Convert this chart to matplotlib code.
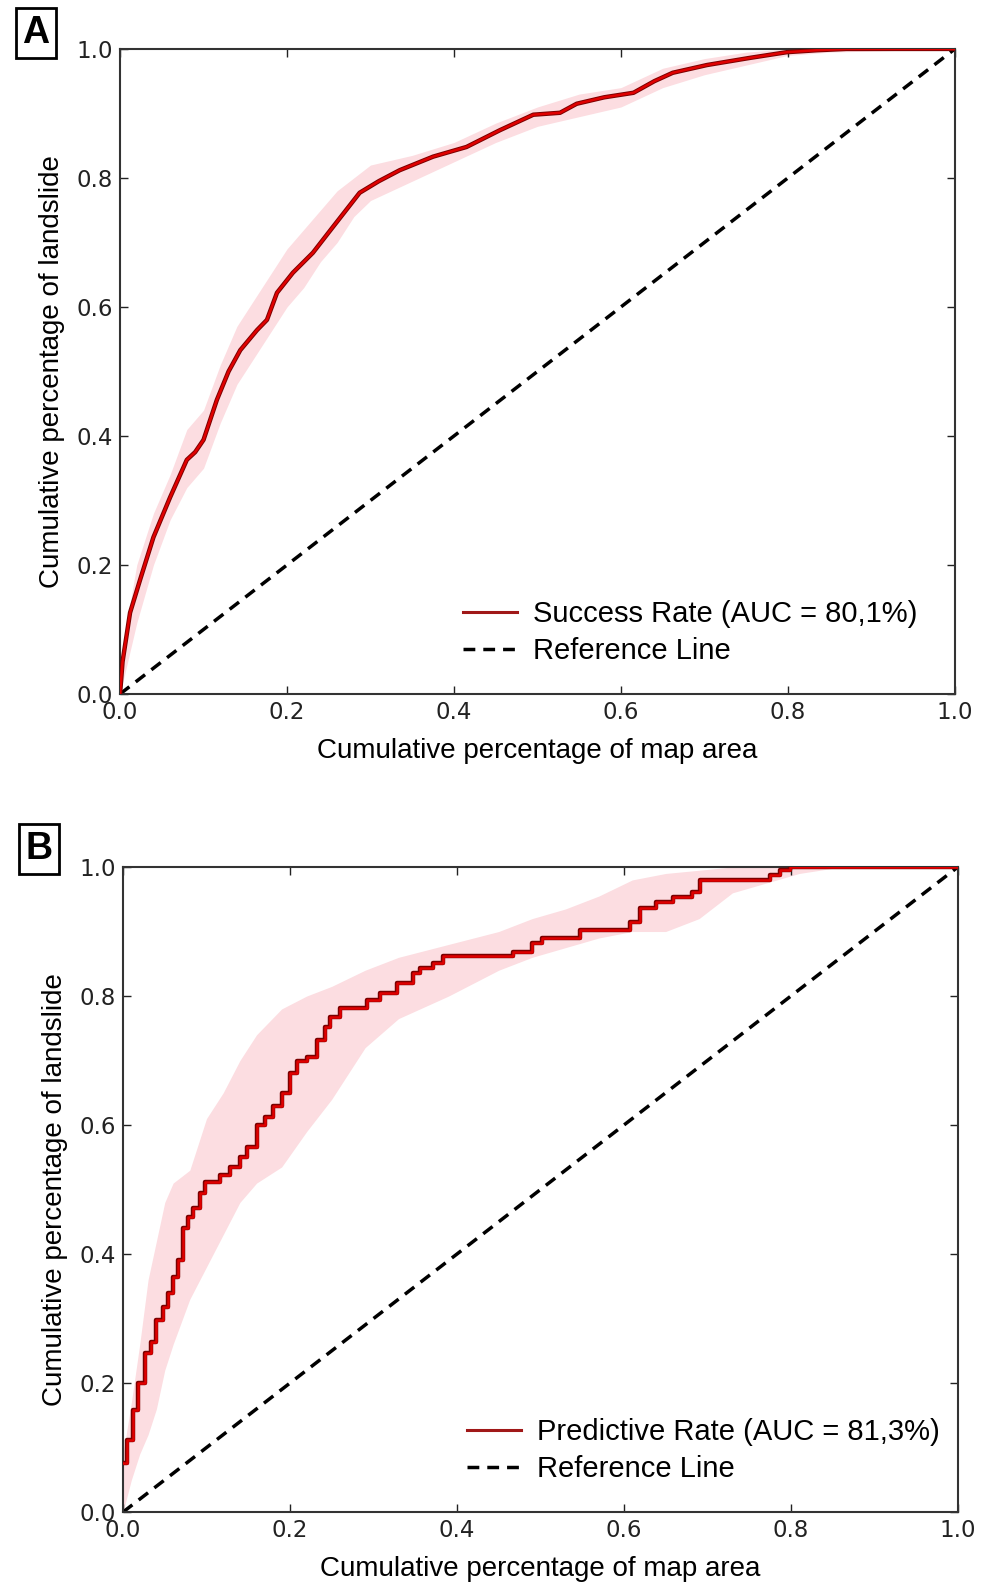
import numpy as np
import matplotlib
matplotlib.use('Agg')
import matplotlib.pyplot as plt

# panel A: success rate curve
a_x = [0, 0.003, 0.012, 0.024, 0.040, 0.060, 0.080, 0.090, 0.100, 0.116, 0.130, 0.144,
       0.164, 0.176, 0.188, 0.207, 0.231, 0.255, 0.287, 0.310, 0.335, 0.375, 0.415,
       0.455, 0.495, 0.527, 0.547, 0.580, 0.615, 0.640, 0.662, 0.703, 0.754, 0.799,
       0.835, 0.87, 1.0]
a_y = [0, 0.05, 0.126, 0.177, 0.243, 0.305, 0.363, 0.375, 0.394, 0.456, 0.50, 0.533,
       0.564, 0.580, 0.622, 0.653, 0.684, 0.724, 0.777, 0.795, 0.812, 0.833, 0.848,
       0.874, 0.898, 0.901, 0.915, 0.925, 0.932, 0.95, 0.963, 0.975, 0.986, 0.995,
       0.998, 1.0, 1.0]
a_band_x = [0.0, 0.02, 0.04, 0.06, 0.08, 0.10, 0.12, 0.14, 0.16, 0.18, 0.20, 0.22, 0.24,
            0.26, 0.28, 0.30, 0.35, 0.40, 0.45, 0.50, 0.55, 0.60, 0.65, 0.70, 0.75,
            0.80, 0.85, 1.0]
a_band_lo = [0.0, 0.11, 0.20, 0.27, 0.32, 0.35, 0.42, 0.48, 0.52, 0.56, 0.60, 0.63, 0.67,
             0.70, 0.74, 0.765, 0.795, 0.825, 0.855, 0.88, 0.895, 0.91, 0.94, 0.96, 0.975,
             0.99, 0.995, 1.0]
a_band_hi = [0.05, 0.20, 0.28, 0.34, 0.41, 0.44, 0.51, 0.57, 0.61, 0.65, 0.69, 0.72, 0.75,
             0.78, 0.80, 0.82, 0.835, 0.855, 0.885, 0.91, 0.93, 0.94, 0.97, 0.985, 0.995,
             1.0, 1.0, 1.0]

# panel B: predictive rate curve (steps)
b_x = [0, 0.0044, 0.012, 0.018, 0.026, 0.034, 0.040, 0.048, 0.054, 0.060, 0.066, 0.072,
       0.078, 0.084, 0.092, 0.098, 0.116, 0.128, 0.140, 0.148, 0.160, 0.170, 0.180,
       0.190, 0.200, 0.208, 0.220, 0.232, 0.242, 0.248, 0.260, 0.292, 0.308, 0.328,
       0.347, 0.356, 0.371, 0.383, 0.467, 0.49, 0.502, 0.547, 0.607, 0.619, 0.639,
       0.659, 0.681, 0.691, 0.775, 0.787, 0.799, 1.0]
b_y = [0.076, 0.112, 0.158, 0.200, 0.246, 0.264, 0.298, 0.318, 0.340, 0.365, 0.391, 0.440,
       0.458, 0.471, 0.494, 0.512, 0.522, 0.535, 0.550, 0.566, 0.600, 0.612, 0.630,
       0.650, 0.681, 0.700, 0.705, 0.732, 0.752, 0.768, 0.781, 0.794, 0.804, 0.820,
       0.836, 0.843, 0.851, 0.862, 0.868, 0.882, 0.890, 0.902, 0.915, 0.936, 0.946,
       0.954, 0.961, 0.980, 0.987, 0.995, 1.0, 1.0]
b_band_x = [0.0, 0.01, 0.02, 0.03, 0.04, 0.05, 0.06, 0.08, 0.10, 0.12, 0.14, 0.16, 0.19,
            0.22, 0.25, 0.29, 0.33, 0.39, 0.45, 0.49, 0.53, 0.57, 0.61, 0.65, 0.69,
            0.73, 0.81, 0.86, 1.0]
b_band_lo = [0.0, 0.05, 0.09, 0.12, 0.16, 0.22, 0.26, 0.33, 0.38, 0.43, 0.48, 0.51, 0.535,
             0.59, 0.64, 0.72, 0.765, 0.80, 0.84, 0.86, 0.875, 0.89, 0.90, 0.90, 0.92,
             0.96, 0.99, 1.0, 1.0]
b_band_hi = [0.09, 0.17, 0.26, 0.36, 0.42, 0.48, 0.51, 0.53, 0.61, 0.65, 0.70, 0.74, 0.78,
             0.80, 0.815, 0.84, 0.86, 0.88, 0.90, 0.92, 0.935, 0.955, 0.98, 0.99, 0.995,
             1.0, 1.0, 1.0, 1.0]

ticks = [0.0, 0.2, 0.4, 0.6, 0.8, 1.0]
xlabel = 'Cumulative percentage of map area'
ylabel = 'Cumulative percentage of landslide'
label_font = ['Liberation Sans', 'DejaVu Sans']


def draw_panel(ax, x, y, bx, lo, hi, name, steps, anchor):
    ax.fill_between(bx, lo, hi, color='#fcdde1', lw=0, zorder=1)
    ax.plot([0, 1], [0, 1], color='black', lw=2.5, dashes=(3.4, 2.3),
            label='Reference Line', zorder=2)
    ds = 'steps-post' if steps else 'default'
    ax.plot(x, y, color='#7a0000', lw=3.2, drawstyle=ds, zorder=3)
    ax.plot(x, y, color='#e00000', lw=1.8, drawstyle=ds, zorder=4)
    # legend handle
    ax.plot([], [], color='#a01818', lw=2.2, label=name)
    h, l = ax.get_legend_handles_labels()
    ax.legend([h[1], h[0]], [l[1], l[0]], loc='lower right', frameon=False,
              prop={'family': label_font, 'size': 21}, handlelength=1.85,
              handletextpad=0.55, labelspacing=0.3, borderpad=0,
              borderaxespad=0, bbox_to_anchor=anchor)
    ax.set_xlim(0, 1)
    ax.set_ylim(0, 1)
    ax.set_xticks(ticks)
    ax.set_yticks(ticks)
    ax.set_xticklabels(['%.1f' % t for t in ticks])
    ax.set_yticklabels(['%.1f' % t for t in ticks])
    ax.tick_params(direction='in', top=True, right=True, length=6, width=1,
                   labelsize=16.5, pad=5, colors='#222222')
    ax.set_xlabel(xlabel, fontsize=20, family=label_font, labelpad=10)
    ax.set_ylabel(ylabel, fontsize=20, family=label_font, labelpad=8)
    for s in ax.spines.values():
        s.set_linewidth(1.5)
        s.set_color('#333333')


fig = plt.figure(figsize=(9.88, 15.83), dpi=100)
ax_a = fig.add_axes([0.1215, 0.5616, 0.845, 0.4075])
ax_b = fig.add_axes([0.1245, 0.0448, 0.845, 0.4075])

draw_panel(ax_a, a_x, a_y, a_band_x, a_band_lo, a_band_hi,
           'Success Rate (AUC = 80,1%)', False, (0.955, 0.045))
draw_panel(ax_b, b_x, b_y, b_band_x, b_band_lo, b_band_hi,
           'Predictive Rate (AUC = 81,3%)', True, (0.978, 0.045))

box = dict(boxstyle='square,pad=0.18', facecolor='white', edgecolor='black', lw=2)
fig.text(0.0365, 0.979, 'A', fontsize=27, fontweight='bold', family=label_font,
         ha='center', va='center', bbox=box)
fig.text(0.0395, 0.4637, 'B', fontsize=27, fontweight='bold', family=label_font,
         ha='center', va='center', bbox=box)

fig.savefig('out.png', dpi=100)
